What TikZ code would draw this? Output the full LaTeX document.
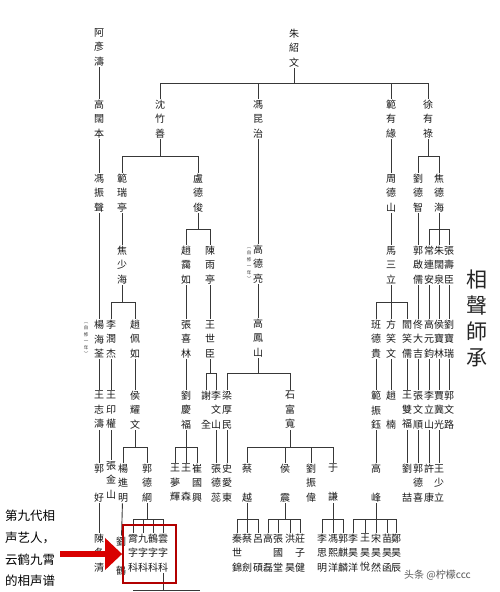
\documentclass[tikz,border=0pt]{standalone}
\usepackage{fontspec}
\newfontfamily\tcfont{Noto Sans CJK TC}
\newfontfamily\scfont{Noto Sans CJK SC}
\usetikzlibrary{backgrounds,arrows.meta}
\tikzset{
  nm/.style={fill=white, inner xsep=0pt, inner ysep=1pt, align=center, text=black!90,
    font=\tcfont\fontsize{10}{14.5}\selectfont},
  ann/.style={fill=white, inner sep=0.3pt, align=center, text=black!80,
    font=\tcfont\fontsize{4.5}{6.5}\selectfont},
  ln/.style={draw=black!78, line width=0.9pt},
}
\newcommand\vn[4]{\node[nm] (#1) at (#2,#3) {#4};}
\newcommand\famline[5]{%
  \draw[ln] (#1) -- (#1 |- #2) (#3 |- #2) -- (#4 |- #2);
  \foreach \kid in {#5} {\draw[ln] (\kid |- #2) -- (\kid);}}
\begin{document}
\begin{tikzpicture}[x=1pt,y=-1pt]
\useasboundingbox (0,0) rectangle (500,592);
% bar levels
\coordinate (B0) at (0,83);
\coordinate (B1) at (0,156);
\coordinate (B2) at (0,229);
\coordinate (B3) at (0,302);
\coordinate (B4) at (0,373);
\coordinate (B5) at (0,447);
\coordinate (B6) at (0,519);
\coordinate (B7a) at (133,590);
\coordinate (B7b) at (200,590);
% row A
\vn{aYT}{99}{47}{阿\\彥\\濤}
\vn{zSW}{294}{48}{朱\\紹\\文}
% row B
\vn{gKB}{99}{119}{高\\闊\\本}
\vn{sZS}{160}{119}{沈\\竹\\善}
\vn{fKZ}{258}{119}{馮\\昆\\治}
\vn{fYY}{391}{119}{範\\有\\緣}
\vn{xYL}{428}{119}{徐\\有\\祿}
% row C
\vn{fZS}{99}{193}{馮\\振\\聲}
\vn{fRT}{122}{193}{範\\瑞\\亭}
\vn{lDJ}{198}{193}{盧\\德\\俊}
\vn{zDS}{391}{193}{周\\德\\山}
\vn{lDZ}{418}{193}{劉\\德\\智}
\vn{jDH}{439}{193}{焦\\德\\海}
% row D
\vn{jSH}{122}{265}{焦\\少\\海}
\vn{zAR}{186}{265}{趙\\靄\\如}
\vn{cYT}{210}{265}{陳\\雨\\亭}
\vn{gDL}{258}{264}{高\\德\\亮}
\vn{mSL}{391}{265}{馬\\三\\立}
\vn{gQR}{418}{265}{郭\\啟\\儒}
\vn{cLA}{429}{265}{常\\連\\安}
\vn{zKQ}{439}{265}{朱\\闊\\泉}
\vn{zSC}{449}{265}{張\\壽\\臣}
% row E
\vn{yHQ}{99}{339}{楊\\海\\荃}
\vn{lRJ}{111}{339}{李\\潤\\杰}
\vn{zPR}{135}{339}{趙\\佩\\如}
\vn{zXL}{186}{339}{張\\喜\\林}
\vn{wSC}{210}{339}{王\\世\\臣}
\vn{gFS}{258}{338}{高\\鳳\\山}
\vn{bDG}{376}{339}{班\\德\\貴}
\vn{fXW}{391}{339}{方\\笑\\文}
\vn{yXR}{407}{339}{閻\\笑\\儒}
\vn{tDJ}{418}{339}{佟\\大\\吉}
\vn{gYJ}{429}{339}{高\\元\\鈞}
\vn{hBL}{439}{339}{侯\\寶\\林}
\vn{lBR}{449}{339}{劉\\寶\\瑞}
% row F
\vn{wZT}{99}{410}{王\\志\\濤}
\vn{wYQ}{111}{410}{王\\印\\權}
\vn{hYW}{135}{410}{侯\\耀\\文}
\vn{lQF}{186}{410}{劉\\慶\\福}
\vn{xQ}{206}{410}{謝\\　\\全}
\vn{lWS}{216}{410}{李\\文\\山}
\vn{lHM}{227}{410}{梁\\厚\\民}
\vn{sFK}{290}{410}{石\\富\\寬}
\vn{fZY}{376}{410}{範\\振\\鈺}
\vn{zN}{391}{410}{趙\\　\\楠}
\vn{wSF}{407}{410}{王\\雙\\福}
\vn{zWS}{418}{410}{張\\文\\順}
\vn{lLS}{429}{410}{李\\立\\山}
\vn{jJG}{439}{410}{賈\\冀\\光}
\vn{gWL}{449}{410}{郭\\文\\路}
% row G
\vn{gJH}{99}{483}{郭\\　\\好}
\vn{zJS}{111}{480}{張\\金\\山}
\vn{yJM}{123}{483}{楊\\進\\明}
\vn{gDG}{147}{483}{郭\\德\\綱}
\vn{wMH}{175}{483}{王\\夢\\輝}
\vn{wS}{186}{483}{王\\　\\森}
\vn{cGX}{197}{483}{崔\\國\\興}
\vn{zDR}{216}{483}{張\\德\\蕊}
\vn{sAD}{227}{483}{史\\愛\\東}
\vn{cY}{247}{483}{蔡\\　\\越}
\vn{hZ}{285}{483}{侯\\　\\震}
\vn{lZW}{311}{483}{劉\\振\\偉}
\vn{yQ}{333}{483}{于\\　\\謙}
\vn{gF}{376}{483}{高\\　\\峰}
\vn{lZ}{407}{483}{劉\\　\\喆}
\vn{gDX}{418}{483}{郭\\德\\喜}
\vn{xK}{429}{483}{許\\　\\康}
\vn{wSL}{439}{483}{王\\少\\立}
% row H
\vn{cXQ}{99}{553}{陳\\冬\\清}
\vn{hid}{121}{556}{劉\\　\\鶴}
\vn{k1}{133}{553}{霄\\字\\科}
\vn{k2}{143}{553}{九\\字\\科}
\vn{k3}{153}{553}{鶴\\字\\科}
\vn{k4}{163}{553}{雲\\字\\科}
\vn{qSJ}{237}{553}{秦\\世\\錦}
\vn{cJ}{247}{553}{蔡\\　\\劍}
\vn{lS}{258}{553}{呂\\　\\碩}
\vn{gL}{268}{553}{高\\　\\磊}
\vn{zGT}{278}{553}{張\\國\\堂}
\vn{hH}{290}{553}{洪\\　\\昊}
\vn{zZJ}{300}{553}{莊\\子\\健}
\vn{lSM}{322}{553}{李\\思\\明}
\vn{fXY}{333}{553}{馮\\熙\\洋}
\vn{gQL}{343}{553}{郭\\麒\\麟}
\vn{h1}{353}{553}{李\\昊\\洋}
\vn{h2}{365}{553}{王\\昊\\悅}
\vn{h3}{376}{553}{宋\\昊\\然}
\vn{h4}{387}{553}{苗\\昊\\函}
\vn{h5}{396}{553}{鄭\\昊\\辰}
% annotations
\node[ann] (an1) at (86,339) {︵\\自\\修\\一\\年\\︶};
\node[ann] (an2) at (249,264) {︵\\自\\修\\一\\年\\︶};
% title
\node[align=center, text=black!85, font=\tcfont\fontsize{21}{26}\selectfont] (ttl) at (477,318) {相\\聲\\師\\承};
% connectors
\begin{scope}[on background layer]
\draw[ln] (aYT) -- (gKB) -- (fZS) -- (yHQ) -- (wZT) -- (gJH) -- (cXQ);
\famline{zSW}{B0}{sZS}{xYL}{sZS,fKZ,fYY,xYL}
\famline{sZS}{B1}{fRT}{lDJ}{fRT,lDJ}
\draw[ln] (fRT) -- (jSH);
\famline{jSH}{B3}{lRJ}{zPR}{lRJ,zPR}
\draw[ln] (lRJ) -- (wYQ) -- (zJS);
\draw[ln] (zPR) -- (hYW);
\famline{hYW}{B5}{yJM}{gDG}{yJM,gDG}
\draw[ln] (yJM) -- (hid);
\famline{gDG}{B6}{k1}{k4}{k1,k2,k3,k4}
\draw[ln] (k4) -- (k4 |- B7a) (B7a) -- (B7b);
\famline{lDJ}{B2}{zAR}{cYT}{zAR,cYT}
\draw[ln] (zAR) -- (zXL) -- (lQF);
\famline{lQF}{B5}{wMH}{cGX}{wMH,wS,cGX}
\draw[ln] (cYT) -- (wSC);
\famline{wSC}{B4}{xQ}{lWS}{xQ,lWS}
\draw[ln] (lWS) -- (zDR);
\draw[ln] (fKZ) -- (gDL) -- (gFS);
\famline{gFS}{B4}{lHM}{sFK}{lHM,sFK}
\draw[ln] (lHM) -- (sAD);
\famline{sFK}{B5}{cY}{yQ}{cY,hZ,lZW,yQ}
\famline{cY}{B6}{qSJ}{lS}{qSJ,cJ,lS}
\famline{hZ}{B6}{gL}{zZJ}{gL,zGT,hH,zZJ}
\famline{yQ}{B6}{lSM}{gQL}{lSM,fXY,gQL}
\draw[ln] (fYY) -- (zDS) -- (mSL);
\famline{mSL}{B3}{bDG}{yXR}{bDG,fXW,yXR}
\draw[ln] (bDG) -- (fZY) -- (gF);
\draw[ln] (fXW) -- (zN);
\draw[ln] (yXR) -- (wSF) -- (lZ);
\famline{gF}{B6}{h1}{h5}{h1,h2,h3,h4,h5}
\famline{xYL}{B1}{lDZ}{jDH}{lDZ,jDH}
\draw[ln] (lDZ) -- (gQR) -- (tDJ) -- (zWS) -- (gDX);
\famline{jDH}{B2}{cLA}{zSC}{cLA,zKQ,zSC}
\draw[ln] (cLA) -- (gYJ) -- (lLS) -- (xK);
\draw[ln] (zKQ) -- (hBL) -- (jJG) -- (wSL);
\draw[ln] (zSC) -- (lBR) -- (gWL);
\end{scope}
% highlight box and arrow
\node[draw=red!70!black, line width=1.8pt, minimum width=53pt, minimum height=58pt, inner sep=0pt] (hl) at (149.5,554) {};
\coordinate (atail) at (60,554);
\draw[red!85!black, line width=6.5pt, -{Triangle[width=31pt,length=17pt]}] (atail) -- (hl.west);
% left label
\node[align=left, anchor=west, inner sep=0pt, text=black, font=\scfont\fontsize{12.5}{21.8}\selectfont] (lbl) at (5,548.5) {第九代相\\声艺人，\\云鹤九霄\\的相声谱};
% watermark
\node[anchor=west, inner sep=0pt, text=black!65, font=\scfont\fontsize{10}{12}\selectfont] (wm) at (404,575) {头条 @柠檬ccc};
\end{tikzpicture}
\end{document}
